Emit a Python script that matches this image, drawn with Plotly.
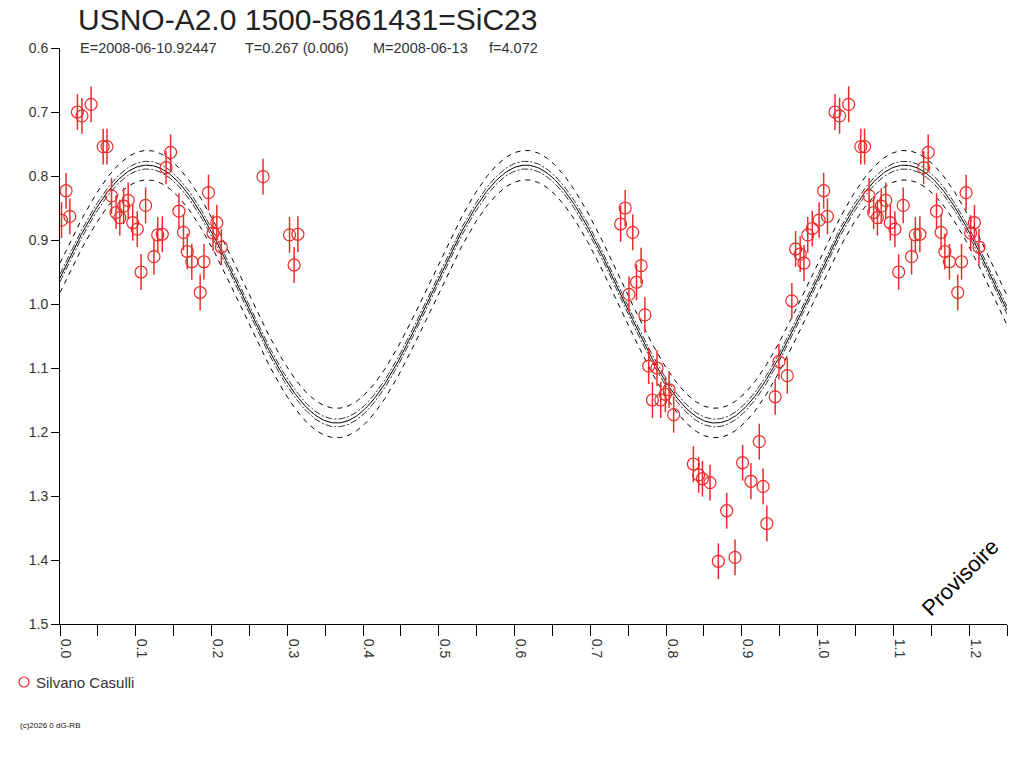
import numpy as np
import plotly.graph_objects as go

phase = [0.002, 0.008, 0.013, 0.023, 0.029, 0.041, 0.057, 0.062, 0.068, 0.074,
         0.079, 0.084, 0.090, 0.096, 0.102, 0.107, 0.113, 0.124, 0.129, 0.135,
         0.140, 0.146, 0.157, 0.163, 0.168, 0.174, 0.185, 0.190, 0.196, 0.202,
         0.207, 0.213, 0.268, 0.303, 0.309, 0.314, 0.740, 0.746, 0.751, 0.756,
         0.761, 0.767, 0.772, 0.777, 0.782, 0.788, 0.793, 0.799, 0.804, 0.810,
         0.836, 0.843, 0.848, 0.858, 0.869, 0.880, 0.891, 0.901, 0.912, 0.923,
         0.928, 0.933, 0.944, 0.949, 0.960, 0.966, 0.971, 0.977, 0.982, 0.987,
         0.993]
mag = [0.869, 0.823, 0.863, 0.700, 0.706, 0.688, 0.754, 0.754, 0.831, 0.857,
       0.865, 0.847, 0.838, 0.873, 0.883, 0.950, 0.846, 0.926, 0.892, 0.891,
       0.787, 0.763, 0.855, 0.888, 0.918, 0.934, 0.982, 0.934, 0.826, 0.889,
       0.873, 0.911, 0.801, 0.892, 0.939, 0.891, 0.875, 0.850, 0.985, 0.888,
       0.966, 0.940, 1.017, 1.097, 1.150, 1.100, 1.150, 1.141, 1.134, 1.173,
       1.250, 1.267, 1.273, 1.279, 1.402, 1.323, 1.396, 1.248, 1.277, 1.215,
       1.285, 1.343, 1.145, 1.090, 1.112, 0.995, 0.914, 0.922, 0.936, 0.892,
       0.882]
err = [0.028, 0.028, 0.028, 0.028, 0.028, 0.028, 0.028, 0.028, 0.028, 0.026,
       0.028, 0.028, 0.028, 0.028, 0.028, 0.028, 0.028, 0.028, 0.028, 0.028,
       0.026, 0.028, 0.028, 0.028, 0.028, 0.028, 0.028, 0.028, 0.028, 0.028,
       0.028, 0.028, 0.028, 0.028, 0.028, 0.028, 0.028, 0.028, 0.028, 0.028,
       0.028, 0.028, 0.028, 0.028, 0.028, 0.028, 0.028, 0.028, 0.028, 0.028,
       0.028, 0.028, 0.028, 0.028, 0.028, 0.028, 0.028, 0.028, 0.028, 0.028,
       0.028, 0.028, 0.028, 0.028, 0.028, 0.028, 0.028, 0.028, 0.028, 0.028,
       0.028]

# fitted double wave: mean mag, half amplitude, phase of maximum, envelopes
fit_mean = 0.9845
fit_amp = 0.2015
fit_max_phase = 0.115
fit_inner = 0.006
fit_outer = 0.023

xtick_vals = [0.0, 0.05, 0.1, 0.15, 0.2, 0.25, 0.3, 0.35, 0.4, 0.45, 0.5, 0.55, 0.6,
              0.65, 0.7, 0.75, 0.8, 0.85, 0.9, 0.95, 1.0, 1.05, 1.1, 1.15, 1.2, 1.25]
xtick_text = ["0.0", "", "0.1", "", "0.2", "", "0.3", "", "0.4", "", "0.5", "", "0.6",
              "", "0.7", "", "0.8", "", "0.9", "", "1.0", "", "1.1", "", "1.2", ""]

observer = "Silvano Casulli"

RED = "#ee2a2a"
FONT = "Liberation Sans, Arial, sans-serif"

# repeat the start of the cycle after phase 1
ph_all = list(phase) + [p + 1 for p in phase if p + 1 <= 1.25]
mag_all = list(mag) + [m for p, m in zip(phase, mag) if p + 1 <= 1.25]
err_all = list(err) + [e for p, e in zip(phase, err) if p + 1 <= 1.25]

xs = np.linspace(0, 1.25, 800)
model = fit_mean - fit_amp * np.cos(4 * np.pi * (xs - fit_max_phase))

fig = go.Figure()

for off, dash, w in [(-fit_outer, "5px,5px", 1), (fit_outer, "5px,5px", 1),
                     (-fit_inner, "7px,2px,2px,2px", 0.8), (fit_inner, "7px,2px,2px,2px", 0.8),
                     (0, "solid", 1)]:
    fig.add_trace(go.Scatter(x=xs, y=model + off, mode="lines", showlegend=False,
                             hoverinfo="skip", line=dict(color="black", width=w, dash=dash)))

fig.add_trace(go.Scatter(
    x=ph_all, y=mag_all, mode="markers", name=observer, showlegend=False,
    marker=dict(symbol="circle-open", size=12, color=RED, line=dict(width=1.2, color=RED)),
    error_y=dict(type="data", array=err_all, color=RED, thickness=1.5, width=0),
))

# plot area in page pixels
PL, PR, PT, PB = 60, 1007, 48, 624


def px(x):
    return (x - PL) / (PR - PL)


def py(y):
    return (PB - y) / (PB - PT)


def note(x, y, text, size, color="#222", xanchor="left", angle=0):
    fig.add_annotation(x=px(x), y=py(y), xref="paper", yref="paper", text=text,
                       showarrow=False, xanchor=xanchor, yanchor="middle",
                       textangle=angle, font=dict(family=FONT, size=size, color=color))


note(76, 20, "USNO-A2.0 1500-5861431=SiC23", 30)
note(78, 48, "E=2008-06-10.92447", 14.5, color="#333")
note(243, 48, "T=0.267 (0.006)", 14.5, color="#333")
note(371, 48, "M=2008-06-13", 14.5, color="#333")
note(487, 48, "f=4.072", 14.5, color="#333")
note(18, 725, "(c)2026 0 dG-RB", 8, color="#111")
note(34, 682, observer, 15, color="#333")
note(960, 577, "Provisoire", 22, color="black", xanchor="center", angle=-45)

# legend symbol
fig.add_shape(type="circle", xref="paper", yref="paper", xsizemode="pixel", ysizemode="pixel",
              xanchor=px(24), yanchor=py(682), x0=-5, x1=5, y0=-5, y1=5,
              line=dict(color=RED, width=1.2))

fig.update_layout(
    width=1024, height=768,
    margin=dict(l=PL, r=1024 - PR, t=PT, b=768 - PB, autoexpand=False),
    paper_bgcolor="white", plot_bgcolor="white",
    font=dict(family=FONT, size=14, color="#333"),
    showlegend=False,
    xaxis=dict(range=[0, 1.25], showline=True, linecolor="black", linewidth=1,
               ticks="outside", ticklen=11, tickcolor="black", tickwidth=1,
               tickvals=xtick_vals, ticktext=xtick_text, tickangle=90, ticklabelshift=6,
               showgrid=False, zeroline=False, tickfont=dict(size=14)),
    yaxis=dict(range=[1.5, 0.6], showline=True, linecolor="black", linewidth=1,
               ticks="outside", ticklen=8, tickcolor="black", tickwidth=1,
               dtick=0.1, tick0=0.6, tickformat=".1f",
               showgrid=False, zeroline=False, tickfont=dict(size=14)),
)

# drop the default body margin so the figure sits at the page corner
fig.write_html("out.html", config={"displayModeBar": False},
               post_script="document.body.style.margin='0';")
